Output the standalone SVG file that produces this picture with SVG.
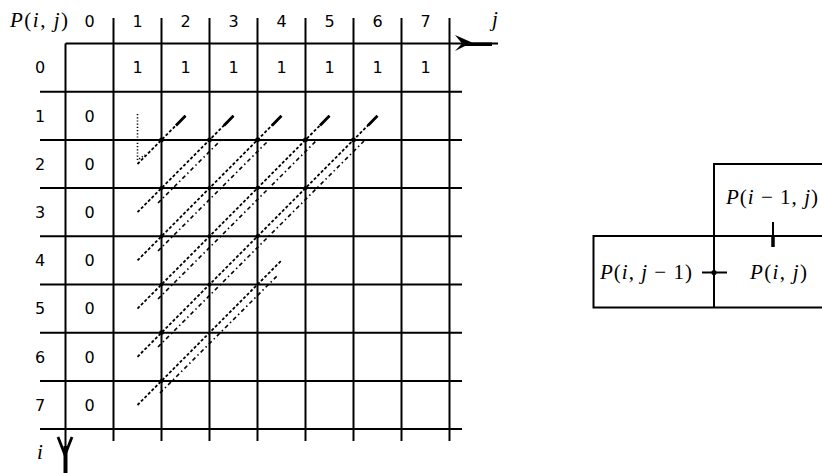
<svg xmlns="http://www.w3.org/2000/svg" width="822" height="473" viewBox="0 0 822 473">
<style>
.g{stroke:#000;stroke-width:2;fill:none}
.n{font-family:"DejaVu Sans",sans-serif;font-size:16px;fill:#000;text-anchor:middle}
.m{font-family:"Liberation Serif",serif;font-size:21px;fill:#000}
.it{font-style:italic}
.p{stroke:#000;stroke-width:1.8;fill:none;stroke-dasharray:3 2}
.s{stroke:#000;stroke-width:1.6;fill:none;stroke-dasharray:4 3 1.5 3}
.h{stroke:#000;stroke-width:2.8;fill:none}
</style>
<rect width="822" height="473" fill="#fff"/>
<g id="grid">
<path class="g" d="M65.5,43.5H498"/>
<path class="g" d="M40,91.7H462M40,139.9H462M40,188.1H462M40,236.3H462M40,284.5H462M40,332.7H462M40,380.9H462M40,429.1H462"/>
<path class="g" d="M65.5,43.5V473"/>
<path class="g" d="M113.5,18V441M161.5,18V441M209.5,18V441M257.5,18V441M305.5,18V441M353.5,18V441M401.5,18V441M449.5,18V441"/>
<path d="M455,35L472,42.5L455,51L462,43.5Z" fill="#000"/>
<path d="M462,42.5H492V46H462Z" fill="#000"/>
<path class="h" d="M58,437L65,455L72,437" stroke-width="3.2"/>
<path d="M65.5,446V473" stroke="#000" stroke-width="4"/>
</g>
<g id="labels">
<text class="m" x="10" y="27" textLength="58" lengthAdjust="spacing"><tspan class="it">P</tspan>(<tspan class="it">i</tspan>, <tspan class="it">j</tspan>)</text>
<text class="m it" x="492" y="26" font-size="16">j</text>
<text class="m it" x="37" y="459" font-size="16">i</text>
<g class="n">
<text x="89.5" y="27">0</text><text x="137.5" y="27">1</text><text x="185.5" y="27">2</text><text x="233.5" y="27">3</text><text x="281.5" y="27">4</text><text x="329.5" y="27">5</text><text x="377.5" y="27">6</text><text x="425.5" y="27">7</text>
<text x="40" y="73.4">0</text><text x="40" y="121.6">1</text><text x="40" y="169.8">2</text><text x="40" y="218">3</text><text x="40" y="266.2">4</text><text x="40" y="314.4">5</text><text x="40" y="362.6">6</text><text x="40" y="410.8">7</text>
<text x="137.5" y="73.4">1</text><text x="185.5" y="73.4">1</text><text x="233.5" y="73.4">1</text><text x="281.5" y="73.4">1</text><text x="329.5" y="73.4">1</text><text x="377.5" y="73.4">1</text><text x="425.5" y="73.4">1</text>
<text x="89.5" y="121.6">0</text><text x="89.5" y="169.8">0</text><text x="89.5" y="218">0</text><text x="89.5" y="266.2">0</text><text x="89.5" y="314.4">0</text><text x="89.5" y="362.6">0</text><text x="89.5" y="410.8">0</text>
</g>
</g>
<g id="connectors">
<path d="M137.5,114V160L145,155" stroke="#000" stroke-width="1.6" fill="none" stroke-dasharray="1.2 2"/>
<path class="p" d="M137.5,164L185.5,115.8"/>
<path class="p" d="M137.5,212.2L233.5,115.8"/>
<path class="p" d="M137.5,260.4L281.5,115.8"/>
<path class="p" d="M137.5,308.6L329.5,115.8"/>
<path class="p" d="M137.5,356.8L377.5,115.8"/>
<path class="p" d="M137.5,405L281.5,260.4"/>
<path class="s" d="M158,203L220,141"/>
<path class="s" d="M158,251L268,141"/>
<path class="s" d="M158,299L316,141"/>
<path class="s" d="M158,347L364,141"/>
<path class="s" d="M160,393L277,276"/>
<path class="h" d="M176,125.5L185.5,115.8M224,125.5L233.5,115.8M272,125.5L281.5,115.8M320,125.5L329.5,115.8M368,125.5L377.5,115.8"/>
<g fill="#000">
<circle cx="161.5" cy="139.9" r="2.4"/><circle cx="209.5" cy="139.9" r="2.4"/><circle cx="257.5" cy="139.9" r="2.4"/><circle cx="305.5" cy="139.9" r="2.4"/><circle cx="353.5" cy="139.9" r="2.4"/>
<circle cx="161.5" cy="188.1" r="2"/><circle cx="209.5" cy="188.1" r="2"/><circle cx="257.5" cy="188.1" r="2"/><circle cx="305.5" cy="188.1" r="2"/>
<circle cx="161.5" cy="236.3" r="2"/><circle cx="209.5" cy="236.3" r="2"/><circle cx="257.5" cy="236.3" r="2"/>
<circle cx="161.5" cy="284.5" r="2"/><circle cx="209.5" cy="284.5" r="2"/>
<circle cx="161.5" cy="332.7" r="2.4"/><circle cx="161.5" cy="380.9" r="2"/>
</g>
</g>
<g id="stencil">
<path class="g" d="M714,307.5V164H822"/>
<path class="g" d="M822,236H593.5V307.5H822"/>
<text class="m" x="726" y="204" textLength="92" lengthAdjust="spacing"><tspan class="it">P</tspan>(<tspan class="it">i</tspan> − 1, <tspan class="it">j</tspan>)</text>
<text class="m" x="600" y="279" textLength="92" lengthAdjust="spacing"><tspan class="it">P</tspan>(<tspan class="it">i</tspan>, <tspan class="it">j</tspan> − 1)</text>
<text class="m" x="750" y="279" textLength="57" lengthAdjust="spacing"><tspan class="it">P</tspan>(<tspan class="it">i</tspan>, <tspan class="it">j</tspan>)</text>
<path d="M773,222V236" stroke="#000" stroke-width="2"/>
<path d="M773,236V247" stroke="#000" stroke-width="3.5"/>
<path d="M702,272.5H727" stroke="#000" stroke-width="2"/>
<circle cx="714" cy="272.5" r="2.6" fill="#000"/>
</g>
</svg>
